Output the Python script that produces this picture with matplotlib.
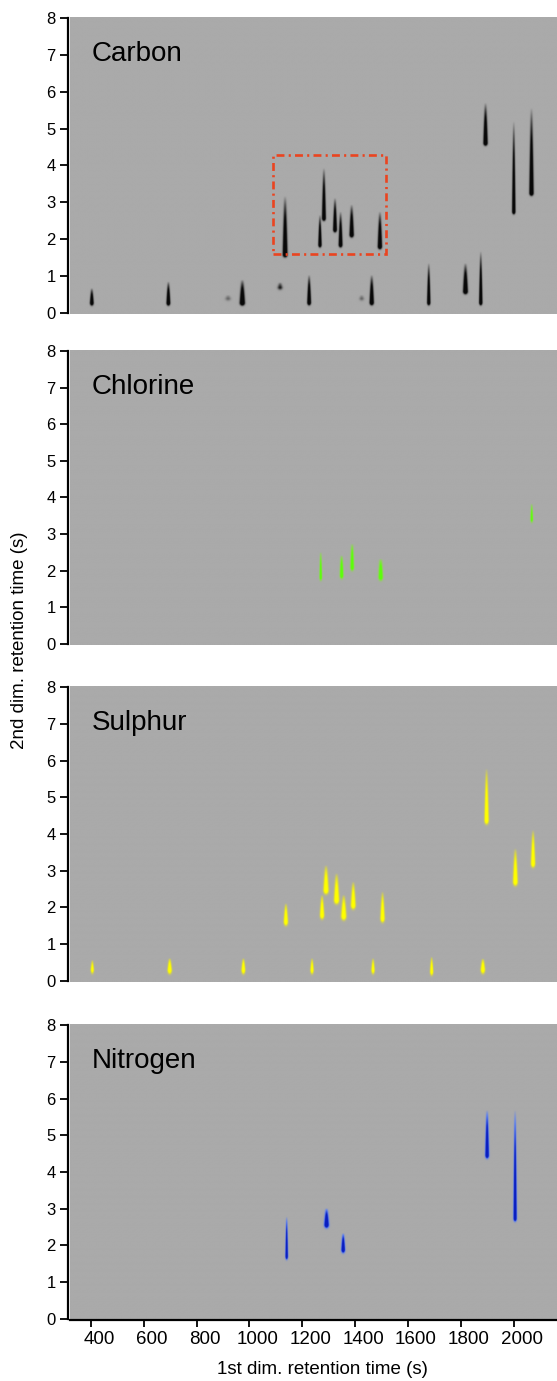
import numpy as np
import matplotlib
matplotlib.use("Agg")
import matplotlib.pyplot as plt
from matplotlib.colors import LinearSegmentedColormap
from matplotlib.patches import Rectangle
from matplotlib.transforms import ScaledTranslation

plt.rcParams['font.family'] = ['Liberation Sans', 'DejaVu Sans']

# ---- peak tables -------------------------------------------------------
# 1st dim. retention (s), 2nd dim. start / end (s), relative intensity, 1st dim. width (s)
carbon_rt1 = [403, 693, 973, 919, 1116, 1226, 1425, 1463, 1679, 1818, 1876,
              1135, 1267, 1282, 1324, 1345, 1387, 1494, 1894, 2001, 2068]
carbon_lo = [0.26, 0.26, 0.26, 0.38, 0.68, 0.27, 0.38, 0.27, 0.27, 0.57, 0.27,
             1.57, 1.84, 2.56, 2.25, 1.84, 2.11, 1.79, 4.60, 2.74, 3.24]
carbon_hi = [0.66, 0.84, 0.89, 0.48, 0.82, 1.02, 0.48, 1.02, 1.34, 1.34, 1.66,
             3.16, 2.65, 3.92, 3.11, 2.74, 2.93, 2.74, 5.69, 5.19, 5.55]
carbon_amp = [0.9, 1.0, 1.0, 0.15, 0.35, 1.0, 0.15, 1.0, 1.0, 1.0, 1.0,
              1.0, 1.0, 1.0, 1.0, 1.0, 1.0, 1.0, 1.0, 1.0, 1.0]
carbon_wid = [4, 4, 5.5, 7, 6, 4, 6, 4.5, 3.5, 5, 3.5,
              5, 3.5, 4, 4, 4, 4.5, 4.5, 4.5, 3.5, 4.5]

chlorine_rt1 = [1270, 1349, 1389, 1497, 2069]
chlorine_lo = [1.82, 1.87, 2.09, 1.82, 3.41]
chlorine_hi = [2.50, 2.41, 2.73, 2.32, 3.83]
chlorine_amp = [0.9, 1.0, 1.0, 1.0, 0.8]
chlorine_wid = [3, 4, 4, 5, 3]

sulphur_rt1 = [405, 698, 977, 1237, 1468, 1690, 1884,
               1138, 1275, 1290, 1330, 1357, 1393, 1504, 1898, 2007, 2074]
sulphur_lo = [0.30, 0.29, 0.29, 0.29, 0.29, 0.25, 0.30,
              1.61, 1.79, 2.47, 2.20, 1.76, 2.06, 1.70, 4.38, 2.70, 3.20]
sulphur_hi = [0.56, 0.61, 0.61, 0.61, 0.61, 0.65, 0.60,
              2.11, 2.34, 3.15, 2.93, 2.34, 2.70, 2.43, 5.79, 3.61, 4.11]
sulphur_amp = [0.8, 1.0, 1.0, 0.9, 0.9, 0.9, 1.0,
               1.0, 1.0, 1.0, 1.0, 1.0, 1.0, 1.0, 1.0, 1.0, 1.0]
sulphur_wid = [3.5, 4.5, 4, 3.5, 3.5, 3.5, 4.5,
               4.5, 4.5, 5.5, 5.5, 5.5, 5, 4.5, 4.5, 5, 4.5]

nitrogen_rt1 = [1141, 1292, 1355, 1900, 2006]
nitrogen_lo = [1.70, 2.56, 1.88, 4.46, 2.74]
nitrogen_hi = [2.78, 3.01, 2.33, 5.69, 5.69]
nitrogen_amp = [1.0, 1.0, 1.0, 1.0, 1.0]
nitrogen_wid = [2.8, 5, 4, 4, 3.5]

# region highlighted on the carbon channel
box_rt1 = (1088, 1516)
box_rt2 = (1.59, 4.29)

panel_names = ["Carbon", "Chlorine", "Sulphur", "Nitrogen"]
x_ticks = [400, 600, 800, 1000, 1200, 1400, 1600, 1800, 2000]
y_ticks = [0, 1, 2, 3, 4, 5, 6, 7, 8]

# ---- rendering helpers -------------------------------------------------
BG = "#aaaaaa"
XLIM = (321, 2164)
YLIM = (-0.04, 8.04)

gx = np.linspace(XLIM[0], XLIM[1], 1500)
gy = np.linspace(YLIM[0], YLIM[1], 900)
GX, GY = np.meshgrid(gx, gy)


def peak_field(rt1, lo, hi, amp, wid, gain, power, taper, foot):
    field = np.zeros_like(GX)
    for r, a, b, m, w in zip(rt1, lo, hi, amp, wid):
        t = (GY - a) / (b - a)
        along = np.where(t < 0, np.exp(-((GY - a) / foot) ** 2),
                         np.clip(1 - t, 0, None) ** power)
        sx = w * (1 - taper * np.clip(t, 0, 1))
        across = np.exp(-0.5 * ((GX - r) / sx) ** 2)
        field += m * gain * along * across
    return np.clip(field, 0, 1)


cmaps = [
    LinearSegmentedColormap.from_list("carbon", [(0, BG), (0.5, "#505050"), (1, "#080808")]),
    LinearSegmentedColormap.from_list("chlorine", [(0, BG), (0.45, "#8fd35a"), (1, "#5cff0a")]),
    LinearSegmentedColormap.from_list("sulphur", [(0, BG), (0.45, "#d8d545"), (1, "#ffff00")]),
    LinearSegmentedColormap.from_list("nitrogen", [(0, BG), (0.4, "#5b7ff0"), (1, "#0a1ec0")]),
]

fields = [
    peak_field(carbon_rt1, carbon_lo, carbon_hi, carbon_amp, carbon_wid, 2.6, 0.9, 0.3, 0.06),
    peak_field(chlorine_rt1, chlorine_lo, chlorine_hi, chlorine_amp, chlorine_wid, 1.8, 0.6, 0.2, 0.08),
    peak_field(sulphur_rt1, sulphur_lo, sulphur_hi, sulphur_amp, sulphur_wid, 2.0, 0.8, 0.35, 0.09),
    peak_field(nitrogen_rt1, nitrogen_lo, nitrogen_hi, nitrogen_amp, nitrogen_wid, 2.4, 0.8, 0.3, 0.07),
]

# ---- figure ------------------------------------------------------------
fig = plt.figure(figsize=(5.57, 13.81), dpi=100)
W, H = 557.0, 1381.0
left = 70 / W
panel_px = [(16.7, 314), (350, 645), (686, 982), (1024, 1320)]

axes = []
for i, (top, bot) in enumerate(panel_px):
    ax = fig.add_axes([left, (H - bot) / H, 1 - left, (bot - top) / H])
    ax.set_facecolor(BG)
    ax.imshow(fields[i], origin="lower", extent=[XLIM[0], XLIM[1], YLIM[0], YLIM[1]],
              aspect="auto", cmap=cmaps[i], vmin=0, vmax=1, interpolation="bilinear")
    ax.set_xlim(*XLIM)
    ax.set_ylim(*YLIM)
    ax.set_yticks(y_ticks)
    ax.tick_params(axis="y", direction="out", length=6, width=1.3, labelsize=12, pad=2.5)
    for s in ("top", "right"):
        ax.spines[s].set_visible(False)
    ax.spines["left"].set_position(("outward", 1.7))
    ax.spines["left"].set_linewidth(1.6)
    ax.spines["left"].set_bounds(0, 8)
    ax.text(0.045, 0.851, panel_names[i], transform=ax.transAxes,
            fontsize=20, ha="left", va="baseline")
    if i < 3:
        ax.spines["bottom"].set_visible(False)
        ax.tick_params(axis="x", bottom=False, labelbottom=False)
    axes.append(ax)

# highlighted region on the carbon channel
axes[0].add_patch(Rectangle((box_rt1[0], box_rt2[0]), box_rt1[1] - box_rt1[0],
                            box_rt2[1] - box_rt2[0], fill=False, edgecolor="#ea4420",
                            linewidth=1.9, linestyle=(0, (3.0, 1.6, 0.8, 1.6)), zorder=5))

# bottom axis
axb = axes[3]
axb.set_xticks(x_ticks)
axb.spines["bottom"].set_linewidth(1.6)
axb.tick_params(axis="x", direction="out", length=5, width=1.3, labelsize=13.5, pad=3)
shift = ScaledTranslation(8 / 100, 0, fig.dpi_scale_trans)
for lab in axb.get_xticklabels():
    lab.set_transform(lab.get_transform() + shift)
axb.set_xlabel("1st dim. retention time (s)", fontsize=13.5)
axb.xaxis.set_label_coords((322.5 - 70) / 487, -(1370 - 1320) / 296)
axb.xaxis.label.set_va("center")

fig.text(19.5 / W, 1 - 640 / H, "2nd dim. retention time (s)", rotation=90,
         ha="center", va="center", fontsize=13.5)

fig.savefig("out.png", dpi=100)
